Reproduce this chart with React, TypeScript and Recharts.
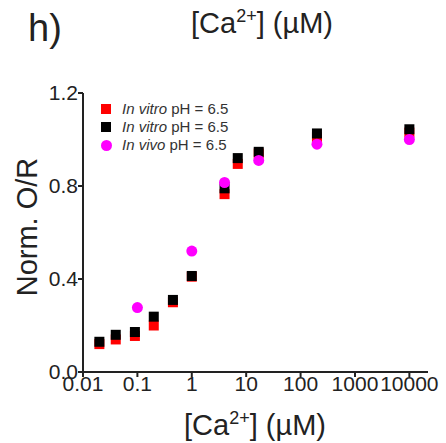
import React from 'react';
import { ScatterChart, Scatter, XAxis, YAxis, Legend } from 'recharts';

const redConc = [0.02, 0.04, 0.09, 0.2, 0.45, 1, 4, 7, 17, 200, 10000];
const redValues = [0.12, 0.14, 0.155, 0.2, 0.3, 0.41, 0.765, 0.895, 0.94, 1.01, 1.03];
const blackConc = [0.02, 0.04, 0.09, 0.2, 0.45, 1, 4, 7, 17, 200, 10000];
const blackValues = [0.13, 0.16, 0.172, 0.238, 0.31, 0.413, 0.79, 0.92, 0.947, 1.026, 1.044];
const magentaConc = [0.1, 1, 4, 17, 200, 10000];
const magentaValues = [0.277, 0.52, 0.815, 0.91, 0.98, 1.0];

const xTicks = [0.01, 0.1, 1, 10, 100, 1000, 10000];
const yTicks = [0, 0.4, 0.8, 1.2];
const seriesNames = ['In vitro pH = 6.5', 'In vitro pH = 6.5', 'In vivo pH = 6.5'];
const seriesItalic = ['In vitro', 'In vitro', 'In vivo'];
const seriesColors = ['#ff0000', '#000000', '#ff00ff'];

const toPoints = (xs: number[], ys: number[]) => xs.map((x, i) => ({ x, y: ys[i] }));
const redData = toPoints(redConc, redValues);
const blackData = toPoints(blackConc, blackValues);
const magentaData = toPoints(magentaConc, magentaValues);

const FONT = '"Liberation Sans", Arial, sans-serif';
const TEXT = '#222';

const squareShape = (color: string) => (props: any) => (
  <rect x={props.cx - 5} y={props.cy - 5} width={10} height={10} fill={color} />
);
const circleShape = (color: string) => (props: any) => (
  <circle cx={props.cx} cy={props.cy} r={5.5} fill={color} />
);

const LegendContent = () => (
  <div style={{ fontFamily: FONT, fontSize: 15, color: '#333', lineHeight: '18.3px' }}>
    {seriesNames.map((name, i) => (
      <div key={i} style={{ display: 'flex', alignItems: 'center', height: 18.3, whiteSpace: 'nowrap' }}>
        <div style={{ width: 18, display: 'flex', justifyContent: 'center' }}>
          <div
            style={{
              width: i === 2 ? 11 : 10,
              height: i === 2 ? 11 : 10,
              background: seriesColors[i],
              borderRadius: i === 2 ? '50%' : 0,
            }}
          />
        </div>
        <span style={{ marginLeft: 7 }}>
          <i>{seriesItalic[i]}</i>
          {name.slice(seriesItalic[i].length)}
        </span>
      </div>
    ))}
  </div>
);

const XLabel = () => (
  <text x={255} y={435} textAnchor="middle" fontFamily={FONT} fontSize={29} fill={TEXT}>
    [Ca
    <tspan dy={-11} fontSize={18}>2+</tspan>
    <tspan dy={11}>] (µM)</tspan>
  </text>
);

const YLabel = () => (
  <text
    x={37}
    y={227}
    transform="rotate(-90, 37, 227)"
    textAnchor="middle"
    fontFamily={FONT}
    fontSize={29}
    fill={TEXT}
  >
    Norm. O/R
  </text>
);

export default function App() {
  return (
    <div style={{ position: 'absolute', left: 0, top: 0, width: 446, height: 443, background: '#fff' }}>
      <ScatterChart width={446} height={443} margin={{ top: 93, right: 18, bottom: 0, left: 0 }}>
        <XAxis
          dataKey="x"
          type="number"
          scale="log"
          domain={[0.01, 22000]}
          allowDataOverflow
          ticks={xTicks}
          tickFormatter={(v: number) => String(v)}
          height={71}
          stroke="#222"
          strokeWidth={2}
          tickSize={5}
          tickMargin={-1}
          tick={{ fill: TEXT, fontSize: 21, fontFamily: FONT }}
          interval={0}
          label={<XLabel />}
        />
        <YAxis
          dataKey="y"
          type="number"
          domain={[0, 1.2]}
          ticks={yTicks}
          tickFormatter={(v: number) => v.toFixed(1)}
          width={83}
          stroke="#222"
          strokeWidth={2}
          tickSize={5}
          tickMargin={0}
          tick={{ fill: TEXT, fontSize: 21, fontFamily: FONT }}
          interval={0}
          label={<YLabel />}
        />
        <Legend
          layout="vertical"
          verticalAlign="middle"
          align="center"
          content={<LegendContent />}
          wrapperStyle={{ position: 'absolute', top: 99.5, left: 97, width: 'auto' }}
        />
        <Scatter name={seriesNames[0]} data={redData} fill={seriesColors[0]} shape={squareShape(seriesColors[0])} isAnimationActive={false} />
        <Scatter name={seriesNames[1]} data={blackData} fill={seriesColors[1]} shape={squareShape(seriesColors[1])} isAnimationActive={false} />
        <Scatter name={seriesNames[2]} data={magentaData} fill={seriesColors[2]} shape={circleShape(seriesColors[2])} isAnimationActive={false} />
      </ScatterChart>
      <svg width={446} height={60} style={{ position: 'absolute', left: 0, top: 0, pointerEvents: 'none' }}>
        <text x={28} y={41} fontFamily={FONT} fontSize={38} fill={TEXT}>h)</text>
        <text x={262} y={33} textAnchor="middle" fontFamily={FONT} fontSize={29} fill={TEXT}>
          [Ca
          <tspan dy={-11} fontSize={18}>2+</tspan>
          <tspan dy={11}>] (µM)</tspan>
        </text>
      </svg>
    </div>
  );
}
